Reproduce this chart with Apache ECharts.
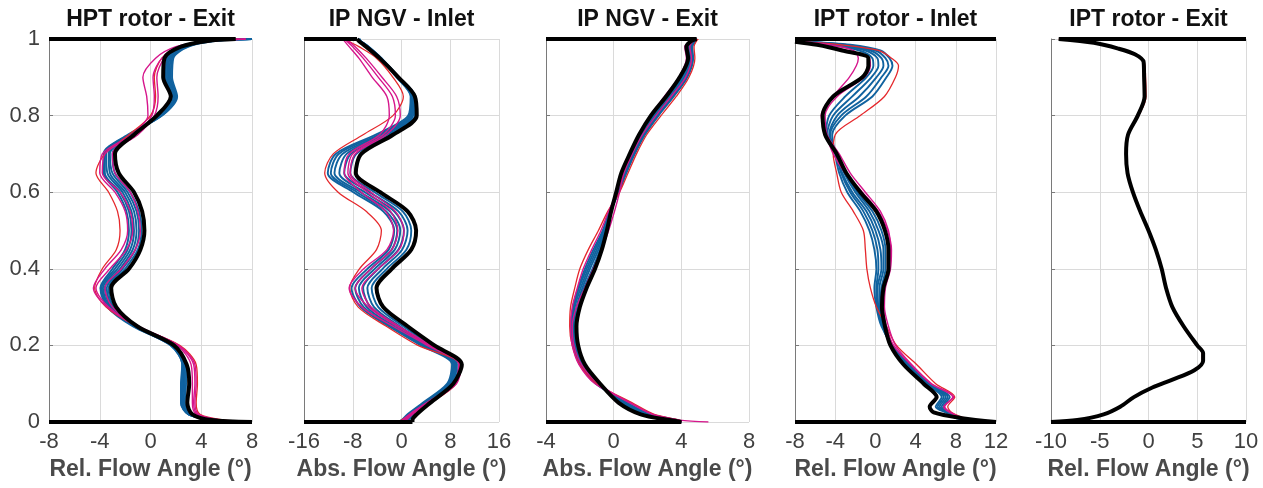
<!DOCTYPE html>
<html><head><meta charset="utf-8">
<script src="https://cdn.jsdelivr.net/npm/echarts/dist/echarts.min.js"></script>
<style>html,body{margin:0;padding:0;background:#fff}#c{width:1263px;height:488px}</style>
</head><body><div id="c"></div>
<script>
// ---------- DATA ----------
const panelTitles = ['HPT rotor - Exit', 'IP NGV - Inlet', 'IP NGV - Exit', 'IPT rotor - Inlet', 'IPT rotor - Exit'];
const axisNames = ['Rel. Flow Angle (°)', 'Abs. Flow Angle (°)', 'Abs. Flow Angle (°)', 'Rel. Flow Angle (°)', 'Rel. Flow Angle (°)'];
const xTicks = [[-8, -4, 0, 4, 8], [-16, -8, 0, 8, 16], [-4, 0, 4, 8], [-8, -4, 0, 4, 8, 12], [-10, -5, 0, 5, 10]];
const yTicks = [0, 0.2, 0.4, 0.6, 0.8, 1];

// span-wise positions (y) of the sampled points
const ySpan = [0, 0.005, 0.02, 0.05, 0.1, 0.15, 0.2, 0.25, 0.3, 0.35, 0.4, 0.45, 0.5, 0.55, 0.6, 0.65, 0.7, 0.75, 0.8, 0.85, 0.9, 0.95, 0.98, 0.995, 1];
const ySpanIptIn = [0, 0.01, 0.025, 0.04, 0.065, 0.1, 0.15, 0.2, 0.25, 0.3, 0.35, 0.4, 0.45, 0.5, 0.55, 0.6, 0.65, 0.7, 0.75, 0.8, 0.85, 0.9, 0.93, 0.95, 0.97, 0.985, 0.993];
const ySpanIptOut = [0, 0.005, 0.02, 0.04, 0.065, 0.09, 0.11, 0.135, 0.16, 0.18, 0.2, 0.25, 0.3, 0.35, 0.4, 0.45, 0.5, 0.55, 0.6, 0.65, 0.7, 0.75, 0.8, 0.85, 0.9, 0.94, 0.96, 0.975, 0.99, 1];

// HPT rotor - Exit
const hptExitBlack = [8, 4.8, 3.3, 2.9, 3.05, 2.85, 1.85, -1.05, -2.7, -3.1, -1.7, -0.8, -0.48, -0.66, -1.3, -2.5, -2.8, -1.3, 0.5, 1.6, 1.0, 1.1, 2.4, 4.5, 6.7];
const hptExitBlue = [
  [7, 4.8, 3.2, 2.7, 2.8, 2.8, 1.8, -1.1, -2.9, -3.3, -2.0, -1.0, -0.7, -0.9, -1.6, -2.8, -3.0, -1.4, 0.6, 1.7, 1.2, 1.3, 2.5, 4.6, 7.5],
  [7, 4.8, 3.1, 2.6, 2.7, 2.7, 1.8, -1.2, -3.0, -3.45, -2.2, -1.2, -0.9, -1.1, -1.8, -3.0, -3.2, -1.5, 0.7, 1.8, 1.3, 1.4, 2.6, 4.7, 7.8],
  [7, 4.9, 3.1, 2.5, 2.6, 2.6, 1.7, -1.2, -3.1, -3.6, -2.4, -1.4, -1.1, -1.3, -2.0, -3.2, -3.3, -1.6, 0.8, 1.9, 1.4, 1.5, 2.7, 4.8, 8],
  [7, 4.9, 3.0, 2.5, 2.5, 2.6, 1.7, -1.3, -3.2, -3.75, -2.6, -1.6, -1.3, -1.5, -2.2, -3.4, -3.5, -1.6, 0.8, 2.0, 1.5, 1.6, 2.8, 4.9, 8],
  [7, 5.0, 3.0, 2.4, 2.5, 2.5, 1.6, -1.3, -3.3, -3.85, -2.8, -1.8, -1.5, -1.7, -2.4, -3.6, -3.6, -1.7, 0.9, 2.0, 1.6, 1.7, 2.9, 5.0, 8],
  [7, 5.0, 3.0, 2.4, 2.4, 2.5, 1.6, -1.4, -3.4, -3.95, -3.0, -2.0, -1.7, -1.9, -2.6, -3.7, -3.7, -1.8, 0.9, 2.1, 1.7, 1.8, 3.0, 5.2, 8]
];
const hptExitMagenta = [
  [7.5, 5.5, 3.7, 3.4, 3.5, 3.4, 2.2, -1.0, -3.3, -4.3, -3.2, -1.9, -1.4, -1.6, -2.4, -3.8, -3.6, -1.2, 0.1, 0.3, 0.2, 0.9, 2.3, 4.8, 7.5],
  [7.5, 5.4, 3.6, 3.3, 3.3, 3.2, 2.1, -0.9, -3.0, -3.6, -2.3, -1.2, -0.8, -1.0, -1.6, -2.8, -3.0, -1.0, 0.3, 0.6, 0.5, 1.1, 2.4, 5.0, 7.5],
  [7.5, 5.6, 3.8, 3.5, 3.6, 3.5, 2.2, -1.1, -3.4, -4.5, -3.6, -2.3, -1.8, -2.0, -2.8, -4.0, -3.8, -1.5, -0.2, -0.3, -0.6, 0.4, 2.0, 4.5, 7.5]
];
const hptExitRed = [
  [8, 5.8, 3.9, 3.6, 3.7, 3.6, 2.3, -1.1, -3.5, -4.4, -3.8, -2.7, -2.4, -2.6, -3.3, -4.3, -3.6, -1.7, 0.0, 0.4, 0.3, 0.9, 2.3, 4.8, 7]
];

// IP NGV - Inlet
const ngvInBlack = [1.8, 1.8, 2.5, 4.7, 8.5, 9.9, 5.4, 1.0, -3.0, -4.1, -1.6, 1.6, 2.4, 1.0, -3.5, -7.5, -6.6, -1.4, 2.5, 2.2, -0.5, -3.6, -5.8, -7.0, -7.3];
const ngvInBlue = [
  [0.8, 1.2, 2.0, 4.4, 8.4, 9.4, 4.9, 0.3, -3.8, -4.9, -2.4, 0.8, 1.6, 0.2, -4.4, -8.4, -7.4, -1.9, 2.2, 2.2, -0.4, -3.4, -5.5, -6.8, -7.0],
  [0.5, 0.9, 1.8, 4.2, 8.2, 9.1, 4.5, -0.3, -4.5, -5.6, -3.1, 0.1, 1.0, -0.5, -5.2, -9.4, -8.3, -2.4, 1.9, 2.0, -0.4, -3.3, -5.4, -6.7, -6.9],
  [0.2, 0.6, 1.6, 4.0, 8.0, 8.9, 4.1, -0.8, -5.1, -6.3, -3.8, -0.5, 0.4, -1.2, -6.0, -10.2, -9.0, -2.9, 1.7, 1.8, -0.5, -3.3, -5.4, -6.7, -6.9],
  [0.0, 0.4, 1.4, 3.8, 7.8, 8.7, 3.8, -1.3, -5.7, -7.0, -4.4, -1.1, -0.2, -1.9, -6.7, -11.0, -9.7, -3.4, 1.5, 1.7, -0.6, -3.4, -5.5, -6.8, -7.0],
  [-0.3, 0.2, 1.2, 3.7, 7.7, 8.5, 3.5, -1.7, -6.2, -7.6, -5.0, -1.6, -0.7, -2.5, -7.3, -11.6, -10.3, -3.8, 1.3, 1.6, -0.7, -3.5, -5.6, -6.9, -7.1],
  [-0.5, 0.0, 1.0, 3.5, 7.5, 8.3, 3.2, -2.1, -6.7, -8.2, -5.6, -2.1, -1.2, -3.0, -7.9, -12.1, -10.8, -4.3, 1.1, 1.5, -0.8, -3.6, -5.7, -7.0, -7.2]
];
const ngvInMagenta = [
  [0.3, 0.5, 1.6, 4.4, 8.8, 9.6, 4.5, -0.8, -5.4, -7.6, -5.0, -1.6, -0.6, -1.8, -5.6, -8.8, -8.0, -3.0, -1.0, -1.5, -3.8, -6.3, -8.0, -9.0, -9.3],
  [0.6, 0.8, 1.8, 4.6, 9.0, 9.8, 4.8, -0.4, -5.0, -6.5, -3.8, -0.4, 0.4, -1.0, -5.0, -8.4, -7.6, -2.5, -0.2, -0.8, -3.2, -5.8, -7.6, -8.7, -9.0],
  [0.0, 0.2, 1.3, 4.1, 8.6, 9.4, 4.2, -1.4, -6.5, -8.6, -6.2, -2.4, -1.3, -2.6, -6.6, -9.4, -8.6, -3.6, -2.0, -2.4, -4.8, -7.0, -8.6, -9.4, -9.6]
];
const ngvInRed = [
  [-0.3, 0.0, 1.6, 4.8, 9.0, 9.5, 2.7, -2.5, -7.1, -8.5, -6.9, -4.1, -3.3, -5.8, -10.4, -12.6, -11.2, -6.3, -1.4, 0.3, -1.4, -4.1, -7.0, -8.8, -9.2]
];

// IP NGV - Exit
const ngvOutBlack = [4.0, 3.3, 1.6, 0.3, -0.8, -1.7, -2.1, -2.2, -2.0, -1.6, -1.1, -0.7, -0.4, -0.15, 0.15, 0.45, 0.95, 1.5, 2.2, 3.1, 3.9, 4.4, 4.3, 4.6, 4.9];
const ngvOutBlue = [
  [4.0, 3.4, 1.8, 0.45, -0.85, -1.8, -2.2, -2.3, -2.1, -1.75, -1.25, -0.8, -0.45, -0.15, 0.2, 0.55, 1.05, 1.6, 2.35, 3.25, 4.05, 4.5, 4.4, 4.7, 4.9],
  [4.0, 3.5, 1.9, 0.55, -0.9, -1.85, -2.25, -2.35, -2.2, -1.85, -1.4, -0.9, -0.5, -0.15, 0.25, 0.6, 1.1, 1.7, 2.45, 3.35, 4.15, 4.55, 4.5, 4.75, 4.9],
  [4.0, 3.6, 2.0, 0.65, -0.95, -1.9, -2.3, -2.4, -2.3, -1.95, -1.5, -1.0, -0.55, -0.2, 0.25, 0.65, 1.15, 1.75, 2.55, 3.45, 4.25, 4.6, 4.55, 4.8, 4.9],
  [4.0, 3.7, 2.1, 0.75, -1.0, -1.95, -2.35, -2.45, -2.35, -2.05, -1.6, -1.1, -0.6, -0.2, 0.3, 0.7, 1.2, 1.8, 2.6, 3.5, 4.3, 4.65, 4.6, 4.8, 4.9],
  [4.0, 3.8, 2.2, 0.8, -1.05, -2.0, -2.4, -2.5, -2.4, -2.1, -1.7, -1.2, -0.65, -0.25, 0.3, 0.75, 1.25, 1.85, 2.65, 3.55, 4.35, 4.7, 4.65, 4.85, 4.9]
];
const ngvOutMagenta = [
  [5.6, 3.9, 2.3, 0.95, -0.9, -1.9, -2.35, -2.45, -2.2, -1.7, -1.2, -0.7, -0.3, 0.05, 0.35, 0.6, 1.0, 1.5, 2.2, 3.0, 3.85, 4.3, 4.2, 4.6, 4.8],
  [4.0, 3.8, 2.3, 1.0, -1.1, -2.05, -2.45, -2.55, -2.45, -2.15, -1.8, -1.3, -0.75, -0.3, 0.2, 0.6, 1.1, 1.7, 2.5, 3.4, 4.25, 4.6, 4.5, 4.7, 4.9]
];
const ngvOutRed = [
  [4.0, 3.9, 2.4, 1.1, -1.0, -2.0, -2.45, -2.6, -2.55, -2.3, -2.0, -1.5, -0.9, -0.35, 0.35, 0.85, 1.35, 1.95, 2.8, 3.7, 4.45, 4.8, 4.75, 4.9, 5.0]
];

// IPT rotor - Inlet
const iptInBlack = [12, 8.6, 5.8, 5.4, 6.1, 4.8, 2.8, 1.5, 0.95, 0.65, 0.8, 1.3, 1.3, 0.95, 0.1, -1.5, -2.9, -3.85, -5.0, -5.25, -4.2, -1.3, -0.7, -0.7, -3.3, -5.8, -8];
const iptInBlue = [
  [11, 8.4, 7.0, 6.0, 6.6, 5.0, 3.0, 1.6, 0.9, 0.5, 0.6, 1.0, 1.0, 0.6, -0.3, -1.8, -3.0, -3.9, -4.9, -4.6, -3.0, -0.9, -0.2, -0.3, -1.6, -4.5, -7.6],
  [11, 8.3, 7.1, 6.2, 6.8, 5.1, 3.1, 1.6, 0.8, 0.4, 0.4, 0.8, 0.8, 0.3, -0.6, -2.0, -3.1, -3.9, -4.8, -4.2, -2.3, -0.4, 0.3, 0.2, -1.0, -4.0, -7.4],
  [11, 8.2, 7.2, 6.4, 7.0, 5.2, 3.2, 1.6, 0.7, 0.3, 0.2, 0.6, 0.5, 0.0, -0.9, -2.3, -3.3, -3.9, -4.6, -3.8, -1.6, 0.1, 0.8, 0.6, -0.5, -3.5, -7.2],
  [11, 8.1, 7.2, 6.6, 7.2, 5.3, 3.3, 1.7, 0.7, 0.2, 0.1, 0.3, 0.2, -0.3, -1.2, -2.5, -3.4, -3.9, -4.5, -3.4, -0.9, 0.6, 1.3, 1.0, 0.0, -3.0, -7.0],
  [11, 8.0, 7.3, 6.8, 7.4, 5.4, 3.4, 1.7, 0.6, 0.1, -0.1, 0.1, -0.1, -0.6, -1.5, -2.8, -3.6, -4.0, -4.3, -3.0, -0.3, 1.1, 1.7, 1.4, 0.5, -2.5, -6.8]
];
const iptInMagenta = [
  [11, 8.8, 7.4, 6.8, 7.8, 5.6, 3.6, 2.0, 1.3, 0.9, 1.0, 1.5, 1.6, 1.2, 0.3, -1.3, -3.0, -4.2, -4.9, -5.4, -4.2, -2.6, -1.9, -1.7, -2.2, -4.5, -7.5],
  [11, 8.6, 7.5, 6.9, 7.7, 5.5, 3.5, 1.8, 1.1, 0.8, 0.9, 1.4, 1.5, 1.3, 0.5, -1.0, -2.5, -3.6, -4.8, -5.0, -3.8, -1.1, -0.5, -0.6, -2.8, -5.4, -7.8]
];
const iptInRed = [
  [11, 9.0, 7.6, 7.2, 7.9, 6.0, 4.1, 2.1, 1.1, 0.1, -0.5, -0.85, -1.0, -1.2, -2.2, -3.4, -3.85, -4.2, -4.0, -1.5, 0.9, 2.0, 2.3, 1.6, 0.3, -3.5, -7.5]
];

// IPT rotor - Exit
const iptOutBlack = [-10, -7.3, -4.6, -2.9, -1.5, 0.4, 2.4, 4.7, 5.6, 5.6, 5.0, 3.6, 2.45, 1.8, 1.35, 0.75, 0.0, -0.85, -1.6, -2.15, -2.3, -2.1, -1.1, -0.4, -0.45, -0.5, -1.4, -3.1, -5.6, -9.2];
const iptOutRed = [
  [-10, -7.3, -4.6, -2.9, -1.5, 0.4, 2.4, 4.6, 5.5, 5.5, 4.9, 3.5, 2.4, 1.8, 1.35, 0.75, 0.0, -0.85, -1.6, -2.15, -2.3, -2.1, -1.0, -0.25, -0.3, -0.45, -1.4, -3.1, -5.6, -9.2]
];

// hub (y = 0) and casing (y = 1) wall extents drawn by the thick black profile
const hubWall = [[-8, 8], [-16, 1.8], [-4, 4.0], [-8, 12], [-10, 10]];
const casingWall = [[-8, 6.7], [-16, -7.3], [-4, 4.9], [-8, 12], [-9.2, 10]];

// ---------- CHART ----------
const panels = [
  { y: ySpan, black: hptExitBlack, blue: hptExitBlue, magenta: hptExitMagenta, red: hptExitRed },
  { y: ySpan, black: ngvInBlack, blue: ngvInBlue, magenta: ngvInMagenta, red: ngvInRed },
  { y: ySpan, black: ngvOutBlack, blue: ngvOutBlue, magenta: ngvOutMagenta, red: ngvOutRed },
  { y: ySpanIptIn, black: iptInBlack, blue: iptInBlue, magenta: iptInMagenta, red: iptInRed },
  { y: ySpanIptOut, black: iptOutBlack, blue: [], magenta: [], red: iptOutRed }
];
const gridBoxes = [
  { left: 49, width: 203 }, { left: 304, width: 195 }, { left: 546, width: 203 },
  { left: 795, width: 201 }, { left: 1051, width: 195 }
];
const TOP = 39, H = 383;
const FONT = '"Liberation Sans", Arial, Helvetica, sans-serif';
const COLORS = { blue: '#10629f', magenta: '#d6168c', red: '#e5282c', black: '#000000' };

const grid = [], xAxis = [], yAxis = [], series = [], title = [];
gridBoxes.forEach((g, p) => {
  grid.push({ left: g.left, width: g.width, top: TOP, height: H, containLabel: false });
  const t = xTicks[p];
  xAxis.push({
    type: 'value', gridIndex: p, min: t[0], max: t[t.length - 1], interval: t[1] - t[0],
    name: axisNames[p], nameLocation: 'middle', nameGap: 34,
    nameTextStyle: { fontFamily: FONT, fontSize: 23, fontWeight: 'bold', color: '#4a4a4a' },
    axisLine: { show: false, onZero: false }, axisTick: { show: false },
    axisLabel: { fontFamily: FONT, fontSize: 22, color: '#404040', margin: 9, showMinLabel: true, showMaxLabel: true, hideOverlap: false },
    splitLine: { show: true, lineStyle: { color: '#dadada', width: 1 } }
  });
  yAxis.push({
    type: 'value', gridIndex: p, min: yTicks[0], max: yTicks[yTicks.length - 1], interval: yTicks[1] - yTicks[0],
    axisLine: { show: true, onZero: false, lineStyle: { color: '#7a7a7a', width: 1 } },
    axisTick: { show: true, inside: true, length: 4, lineStyle: { color: '#7a7a7a' } },
    axisLabel: { show: p === 0, fontFamily: FONT, fontSize: 22, color: '#404040', margin: 9, showMinLabel: true, showMaxLabel: true },
    splitLine: { show: true, lineStyle: { color: '#dadada', width: 1 } }
  });
  title.push({
    text: panelTitles[p], left: g.left + g.width / 2, top: 8, textAlign: 'center', padding: 0,
    textStyle: { fontFamily: FONT, fontSize: 23, fontWeight: 'bold', color: '#111' }
  });
  const pan = panels[p];
  const toPts = xs => xs.map((x, i) => [x, pan.y[i]]);
  const add = (xs, color, width, z) => series.push({
    type: 'line', xAxisIndex: p, yAxisIndex: p, data: toPts(xs), smooth: 0.3,
    showSymbol: false, symbol: 'none', silent: true, animation: false, z: z,
    lineStyle: { color: color, width: width }
  });
  pan.blue.forEach(xs => add(xs, COLORS.blue, 1.9, 2));
  pan.red.forEach(xs => add(xs, COLORS.red, 1.3, 3));
  pan.magenta.forEach(xs => add(xs, COLORS.magenta, 1.4, 4));
  add(pan.black, COLORS.black, 4, 5);
  // walls
  [[hubWall[p], 0], [casingWall[p], 1]].forEach(([ext, yv]) => series.push({
    type: 'line', xAxisIndex: p, yAxisIndex: p, data: [[ext[0], yv], [ext[1], yv]],
    showSymbol: false, symbol: 'none', silent: true, animation: false, z: 6,
    lineStyle: { color: COLORS.black, width: 4 }
  }));
});

const chart = echarts.init(document.getElementById('c'), null, { renderer: 'canvas' });
chart.setOption({ animation: false, backgroundColor: '#ffffff', title, grid, xAxis, yAxis, series });
</script></body></html>
